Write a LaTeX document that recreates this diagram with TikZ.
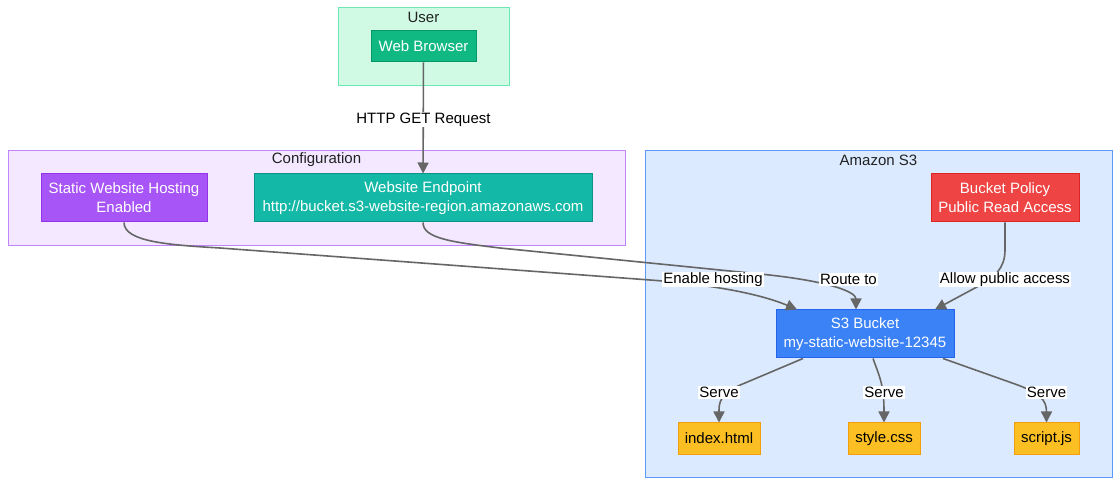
\documentclass[tikz,border=0pt]{standalone}
\usepackage{fontspec}
\setmainfont{Liberation Sans}
\usetikzlibrary{arrows.meta,calc}
\definecolor{userfill}{HTML}{D1FAE5}
\definecolor{userline}{HTML}{6EE7B7}
\definecolor{browserfill}{HTML}{10B981}
\definecolor{browserline}{HTML}{059669}
\definecolor{conffill}{HTML}{F3E8FF}
\definecolor{confline}{HTML}{C084FC}
\definecolor{staticfill}{HTML}{A855F7}
\definecolor{staticline}{HTML}{9333EA}
\definecolor{endfill}{HTML}{14B8A6}
\definecolor{endline}{HTML}{0D9488}
\definecolor{sfill}{HTML}{DBEAFE}
\definecolor{sline}{HTML}{5B9AF8}
\definecolor{polfill}{HTML}{EF4444}
\definecolor{polline}{HTML}{DC2626}
\definecolor{bucketfill}{HTML}{3B82F6}
\definecolor{bucketline}{HTML}{2563EB}
\definecolor{filefill}{HTML}{FBBF24}
\definecolor{fileline}{HTML}{F59E0B}
\definecolor{edgecol}{HTML}{666666}
\definecolor{titlecol}{HTML}{222222}
\begin{document}
\begin{tikzpicture}[x=1pt,y=-1pt,
  every node/.style={font=\fontsize{15}{19}\selectfont},
  cluster/.style={draw, line width=1pt, inner sep=0pt},
  box/.style={draw, line width=1pt, inner sep=0pt, align=center, text=white},
  filebox/.style={draw=fileline, fill=filefill, line width=1pt, inner sep=0pt, align=center, text=black},
  ctitle/.style={text=titlecol, inner sep=0pt, yshift=-1pt},
  edge/.style={draw=edgecol, line width=1.6pt, -{Triangle[length=11pt,width=11pt]}},
  elabel/.style={fill=white, text=black, inner sep=1pt, yshift=-1.5pt}]
\useasboundingbox (0,0) rectangle (1120,486);
\fill[white] (0,0) rectangle (1120,486);
% clusters
\node[cluster, draw=userline, fill=userfill, minimum width=171, minimum height=78] (user) at (423.5,47) {};
\node[ctitle] (usertitle) at (423.5,16) {User};
\node[cluster, draw=confline, fill=conffill, minimum width=617, minimum height=95] (conf) at (316.5,198.5) {};
\node[ctitle] (conftitle) at (316.5,159) {Configuration};
\node[cluster, draw=sline, fill=sfill, minimum width=467, minimum height=326] (s3) at (878.5,314) {};
\node[ctitle] (s3title) at (878.5,159) {Amazon S3};
% nodes
\node[box, draw=browserline, fill=browserfill, minimum width=105, minimum height=31] (browser) at (423.5,46.5) {Web Browser};
\node[box, draw=staticline, fill=staticfill, minimum width=166, minimum height=48] (static) at (124,198) {Static Website Hosting\\Enabled};
\node[box, draw=endline, fill=endfill, minimum width=338, minimum height=48] (endpoint) at (423,198) {Website Endpoint\\http://bucket.s3-website-region.amazonaws.com};
\node[box, draw=polline, fill=polfill, minimum width=148, minimum height=48] (policy) at (1005,198) {Bucket Policy\\Public Read Access};
\node[box, draw=bucketline, fill=bucketfill, minimum width=178, minimum height=48] (bucket) at (865,334) {S3 Bucket\\my-static-website-12345};
\node[filebox, minimum width=82, minimum height=31] (index) at (719,438.5) {index.html};
\node[filebox, minimum width=72, minimum height=31] (style) at (884,438.5) {style.css};
\node[filebox, minimum width=65, minimum height=31] (script) at (1046.5,438.5) {script.js};
% edges
\draw[edge] (browser) -- (endpoint);
\draw[edge] (static.south) .. controls (124,242) and (170,245) .. (220,248) -- (650,280) .. controls (730,286) and (770,298) .. ($(bucket.north)+(-68,0)$);
\draw[edge] (endpoint.south) .. controls (423,238) and (450,242) .. (500,248) -- (760,274) .. controls (830,281) and (856,292) .. ($(bucket.north)+(-9,0)$);
\draw[edge] (policy.south) -- (1005,250) .. controls (1005,268) and (995,278) .. (975,288) -- ($(bucket.north)+(70,0)$);
\draw[edge] ($(bucket.south)+(-62,0)$) -- (745,383) .. controls (725,391) and (719,398) .. (719,410) -- (index.north);
\draw[edge] ($(bucket.south)+(8,0)$) .. controls (880,378) and (884,385) .. (style.north);
\draw[edge] ($(bucket.south)+(78,0)$) -- (1015,384) .. controls (1040,393) and (1046.5,400) .. (script.north);
% edge labels
\node[elabel] (l1) at (423.5,118) {HTTP GET Request};
\node[elabel] (l2) at (713,278) {Enable hosting};
\node[elabel] (l3) at (848.5,278) {Route to};
\node[elabel] (l4) at (1005,278) {Allow public access};
\node[elabel] (l5) at (719,391) {Serve};
\node[elabel] (l6) at (884,391) {Serve};
\node[elabel] (l7) at (1046.5,391) {Serve};
\end{tikzpicture}
\end{document}
